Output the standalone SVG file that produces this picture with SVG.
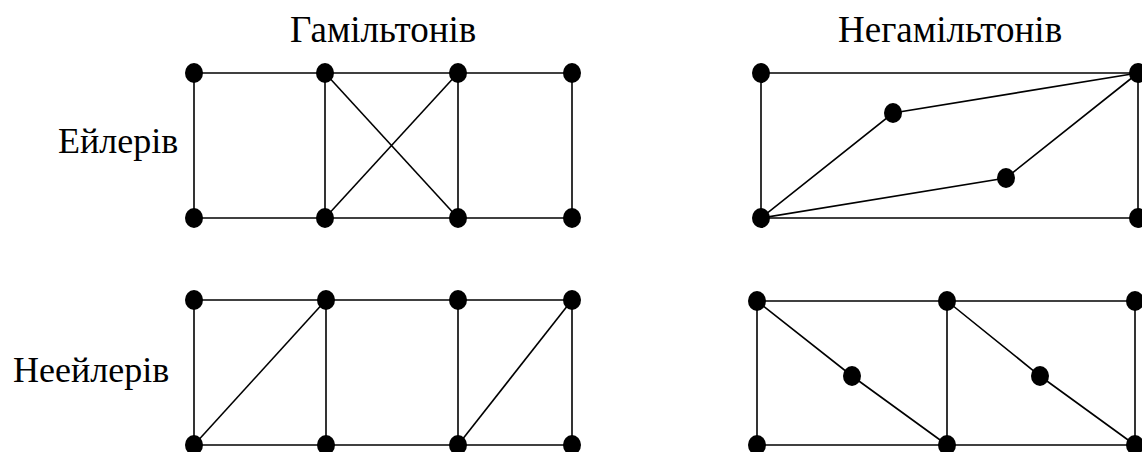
<svg xmlns="http://www.w3.org/2000/svg" width="1142" height="452" viewBox="0 0 1142 452">
<style>
text{font-family:"Liberation Serif","Times New Roman",serif;font-size:36px;fill:#000}
.h{font-size:37px}
.e line,.e polyline{stroke:#000;stroke-width:1.6;fill:none}
.n ellipse{fill:#000}
</style>
<rect width="1142" height="452" fill="#fff"/>
<g id="labels">
<text class="h" x="290" y="42">Гамільтонів</text>
<text class="h" x="838" y="42">Негамільтонів</text>
<text x="58" y="153">Ейлерів</text>
<text x="13" y="382">Неейлерів</text>
</g>
<g id="connectors" class="e">
<line x1="194" y1="73" x2="572" y2="73"/>
<line x1="194" y1="218" x2="572" y2="218"/>
<line x1="194" y1="73" x2="194" y2="218"/>
<line x1="325" y1="73" x2="325" y2="218"/>
<line x1="458" y1="73" x2="458" y2="218"/>
<line x1="572" y1="73" x2="572" y2="218"/>
<line x1="325" y1="73" x2="458" y2="218"/>
<line x1="325" y1="218" x2="458" y2="73"/>
<line x1="761" y1="73" x2="1138" y2="73"/>
<line x1="761" y1="218" x2="1138" y2="218"/>
<line x1="761" y1="73" x2="761" y2="218"/>
<line x1="1138" y1="73" x2="1138" y2="218"/>
<polyline points="761,218 893,113 1138,73"/>
<polyline points="761,218 1006,178 1138,73"/>
<line x1="194" y1="300" x2="572" y2="300"/>
<line x1="194" y1="445" x2="572" y2="445"/>
<line x1="194" y1="300" x2="194" y2="445"/>
<line x1="326" y1="300" x2="326" y2="445"/>
<line x1="458" y1="300" x2="458" y2="445"/>
<line x1="572" y1="300" x2="572" y2="445"/>
<line x1="194" y1="445" x2="326" y2="300"/>
<line x1="458" y1="445" x2="572" y2="300"/>
<line x1="757" y1="301" x2="1135" y2="301"/>
<line x1="757" y1="445" x2="1135" y2="445"/>
<line x1="757" y1="301" x2="757" y2="445"/>
<line x1="947" y1="301" x2="947" y2="445"/>
<line x1="1135" y1="301" x2="1135" y2="445"/>
<polyline points="757,301 852,376 947,445"/>
<polyline points="947,301 1040,376 1135,445"/>
</g>
<g class="n">
<g id="a1"><ellipse cx="194" cy="73" rx="9" ry="10"/></g>
<g id="a2"><ellipse cx="325" cy="73" rx="9" ry="10"/></g>
<g id="a3"><ellipse cx="458" cy="73" rx="9" ry="10"/></g>
<g id="a4"><ellipse cx="572" cy="73" rx="9" ry="10"/></g>
<g id="a5"><ellipse cx="194" cy="218" rx="9" ry="10"/></g>
<g id="a6"><ellipse cx="325" cy="218" rx="9" ry="10"/></g>
<g id="a7"><ellipse cx="458" cy="218" rx="9" ry="10"/></g>
<g id="a8"><ellipse cx="572" cy="218" rx="9" ry="10"/></g>
<g id="b1"><ellipse cx="761" cy="73" rx="9" ry="10"/></g>
<g id="b2"><ellipse cx="1138" cy="73" rx="9" ry="10"/></g>
<g id="b3"><ellipse cx="761" cy="218" rx="9" ry="10"/></g>
<g id="b4"><ellipse cx="1138" cy="218" rx="9" ry="10"/></g>
<g id="b5"><ellipse cx="893" cy="113" rx="9" ry="10"/></g>
<g id="b6"><ellipse cx="1006" cy="178" rx="9" ry="10"/></g>
<g id="c1"><ellipse cx="194" cy="300" rx="9" ry="10"/></g>
<g id="c2"><ellipse cx="326" cy="300" rx="9" ry="10"/></g>
<g id="c3"><ellipse cx="458" cy="300" rx="9" ry="10"/></g>
<g id="c4"><ellipse cx="572" cy="300" rx="9" ry="10"/></g>
<g id="c5"><ellipse cx="194" cy="445" rx="9" ry="10"/></g>
<g id="c6"><ellipse cx="326" cy="445" rx="9" ry="10"/></g>
<g id="c7"><ellipse cx="458" cy="445" rx="9" ry="10"/></g>
<g id="c8"><ellipse cx="572" cy="445" rx="9" ry="10"/></g>
<g id="d1"><ellipse cx="757" cy="301" rx="9" ry="10"/></g>
<g id="d2"><ellipse cx="947" cy="301" rx="9" ry="10"/></g>
<g id="d3"><ellipse cx="1135" cy="301" rx="9" ry="10"/></g>
<g id="d4"><ellipse cx="757" cy="445" rx="9" ry="10"/></g>
<g id="d5"><ellipse cx="947" cy="445" rx="9" ry="10"/></g>
<g id="d6"><ellipse cx="1135" cy="445" rx="9" ry="10"/></g>
<g id="d7"><ellipse cx="852" cy="376" rx="9" ry="10"/></g>
<g id="d8"><ellipse cx="1040" cy="376" rx="9" ry="10"/></g>
</g>
</svg>
